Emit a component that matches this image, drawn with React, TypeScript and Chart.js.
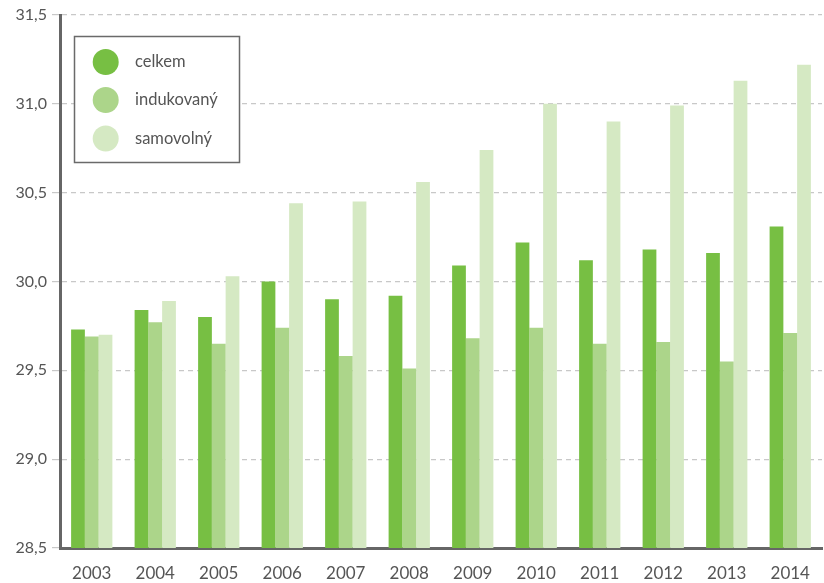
import React, { useEffect, useRef } from "react";
import { Chart, registerables } from "chart.js";

Chart.register(...registerables);

const categories = ["2003", "2004", "2005", "2006", "2007", "2008", "2009", "2010", "2011", "2012", "2013", "2014"];
const seriesNames = ["celkem", "indukovaný", "samovolný"];
const celkem = [29.73, 29.84, 29.8, 30.0, 29.9, 29.92, 30.09, 30.22, 30.12, 30.18, 30.16, 30.31];
const indukovany = [29.69, 29.77, 29.65, 29.74, 29.58, 29.51, 29.68, 29.74, 29.65, 29.66, 29.55, 29.71];
const samovolny = [29.7, 29.89, 30.03, 30.44, 30.45, 30.56, 30.74, 31.0, 30.9, 30.99, 31.13, 31.22];
const yMin = 28.5;
const yMax = 31.5;
const yStep = 0.5;
const colors = ["#77bf43", "#acd58a", "#d5e9c3"];

const FONT = "Lato, 'Open Sans', sans-serif";

const legendPlugin = {
  id: "boxLegend",
  afterDraw(chart: any) {
    const ctx = chart.ctx;
    const x0 = 74.5, y0 = 36.5, w = 165, h = 126;
    ctx.save();
    ctx.fillStyle = "#ffffff";
    ctx.fillRect(x0, y0, w, h);
    ctx.strokeStyle = "#6a6a6a";
    ctx.lineWidth = 1.5;
    ctx.strokeRect(x0, y0, w, h);
    const rows = [62, 100, 138.5];
    chart.data.datasets.forEach((ds: any, i: number) => {
      ctx.beginPath();
      ctx.fillStyle = ds.backgroundColor;
      ctx.arc(105.7, rows[i], 13, 0, Math.PI * 2);
      ctx.fill();
      ctx.fillStyle = "#555555";
      ctx.font = `16.5px ${FONT}`;
      ctx.textBaseline = "middle";
      ctx.textAlign = "left";
      ctx.fillText(ds.label, 135, rows[i]);
    });
    ctx.restore();
  },
};

export default function App() {
  const ref = useRef<HTMLCanvasElement | null>(null);
  useEffect(() => {
    if (!ref.current) return;
    const data = [celkem, indukovany, samovolny];
    const chart = new Chart(ref.current, {
      type: "bar",
      data: {
        labels: categories,
        datasets: seriesNames.map((name, i) => ({
          label: name,
          data: data[i],
          backgroundColor: colors[i],
          borderWidth: 0,
          barPercentage: 1,
          categoryPercentage: 0.65,
        })),
      },
      options: {
        responsive: false,
        animation: false,
        devicePixelRatio: 1,
        layout: { padding: { top: 15, right: 2, left: 0, bottom: 0 } },
        plugins: { legend: { display: false }, tooltip: { enabled: false } },
        scales: {
          x: {
            grid: { display: false },
            border: { display: true, color: "#666666", width: 3 },
            ticks: { color: "#555555", font: { family: FONT, size: 17 }, padding: 7 },
            afterFit: (s: any) => { s.height = 35; },
          },
          y: {
            min: yMin,
            max: yMax,
            ticks: {
              stepSize: yStep,
              color: "#555555",
              font: { family: FONT, size: 16 },
              padding: 5,
              callback: (v: any) => Number(v).toFixed(1).replace(".", ","),
            },
            grid: { color: "#c8c8c8", lineWidth: 1.2, tickLength: 8, drawTicks: true },
            border: { display: true, color: "#666666", width: 3, dash: [5, 4] },
            afterFit: (s: any) => { s.width = 60; },
          },
        },
      },
      plugins: [legendPlugin],
    });
    return () => chart.destroy();
  }, []);
  return (
    <div style={{ position: "fixed", left: 0, top: 0, width: 824, height: 583, background: "#fff" }}>
      <canvas ref={ref} width={824} height={583} />
    </div>
  );
}
